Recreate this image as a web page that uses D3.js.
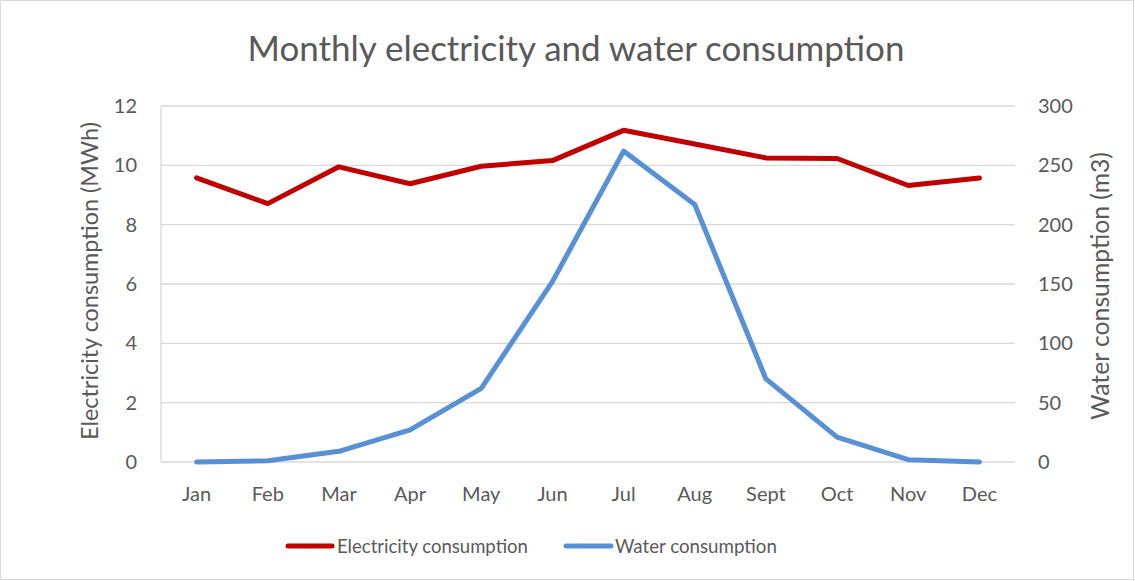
<!DOCTYPE html>
<html>
<head>
<meta charset="utf-8">
<script src="https://cdn.jsdelivr.net/npm/d3@7"></script>
<style>
  html, body { margin: 0; padding: 0; background: #fff; }
  svg { display: block; font-family: Lato, "Open Sans", sans-serif; }
</style>
</head>
<body>
<svg id="chart" width="1135" height="581"></svg>
<script>
// ── Data ─────────────────────────────────────────────────────────────────────
const months      = ["Jan", "Feb", "Mar", "Apr", "May", "Jun", "Jul", "Aug", "Sept", "Oct", "Nov", "Dec"];
const electricity = [9.58, 8.71, 9.95, 9.38, 9.97, 10.16, 11.18, 10.72, 10.25, 10.23, 9.32, 9.57];
const water       = [0, 1, 9, 27, 62, 152, 262, 217, 70, 21, 2, 0];
const leftTicks   = [0, 2, 4, 6, 8, 10, 12];
const rightTicks  = [0, 50, 100, 150, 200, 250, 300];

const RED  = "#C00000";
const BLUE = "#5890D6";
const TEXT = "#595959";
const GRID = "#D9D9D9";

const svg = d3.select("#chart");
const W = 1135, H = 581;
const plot = { left: 161, right: 1015, top: 106, bottom: 462 };

// shrink/grow a text node until it spans the measured width
function fitWidth(sel, target) {
  const node = sel.node();
  const fs = parseFloat(sel.attr("font-size"));
  const w = node.getComputedTextLength();
  if (w > 0) sel.attr("font-size", (fs * target / w).toFixed(2));
  return sel;
}

// chart border
svg.append("rect")
  .attr("x", 0.5).attr("y", 0.5)
  .attr("width", W - 2).attr("height", H - 2)
  .attr("fill", "#fff")
  .attr("stroke", GRID);

// ── Scales ───────────────────────────────────────────────────────────────────
const x = d3.scaleBand().domain(months).range([plot.left, plot.right]);
const yL = d3.scaleLinear().domain([0, 12]).range([plot.bottom, plot.top]);
const yR = d3.scaleLinear().domain([0, 300]).range([plot.bottom, plot.top]);
const cx = m => x(m) + x.bandwidth() / 2;

// gridlines
svg.append("g")
  .selectAll("line")
  .data(leftTicks).enter().append("line")
  .attr("x1", plot.left).attr("x2", plot.right)
  .attr("y1", d => yL(d)).attr("y2", d => yL(d))
  .attr("stroke", GRID)
  .attr("stroke-width", 1.3);

// left axis line
svg.append("line")
  .attr("x1", plot.left).attr("x2", plot.left)
  .attr("y1", plot.top).attr("y2", plot.bottom)
  .attr("stroke", GRID)
  .attr("stroke-width", 1.3);

// ── Axes ─────────────────────────────────────────────────────────────────────
const axisL = svg.append("g")
  .attr("transform", `translate(${plot.left},0)`)
  .call(d3.axisLeft(yL).tickValues(leftTicks).tickSize(0).tickPadding(24));
const axisR = svg.append("g")
  .attr("transform", `translate(${plot.right},0)`)
  .call(d3.axisRight(yR).tickValues(rightTicks).tickSize(0).tickPadding(23));
const axisB = svg.append("g")
  .attr("transform", `translate(0,${plot.bottom})`)
  .call(d3.axisBottom(x).tickSize(0).tickPadding(25));

[axisL, axisR, axisB].forEach(a => {
  a.select(".domain").remove();
  a.selectAll("text")
    .attr("fill", TEXT)
    .attr("font-size", 20)
    .attr("font-family", "Lato, 'Open Sans', sans-serif");
});

// ── Titles ───────────────────────────────────────────────────────────────────
const title = svg.append("text")
  .attr("x", 576).attr("y", 61)
  .attr("text-anchor", "middle")
  .attr("fill", TEXT)
  .attr("font-size", 30)
  .text("Monthly electricity and water consumption");
fitWidth(title, 657);

const leftTitle = svg.append("text")
  .attr("transform", `translate(98,281) rotate(-90)`)
  .attr("text-anchor", "middle")
  .attr("fill", TEXT)
  .attr("font-size", 20)
  .text("Electricity consumption (MWh)");
fitWidth(leftTitle, 318);

const rightTitle = svg.append("text")
  .attr("transform", `translate(1109,286) rotate(-90)`)
  .attr("text-anchor", "middle")
  .attr("fill", TEXT)
  .attr("font-size", 20)
  .text("Water consumption (m3)");
fitWidth(rightTitle, 268);

// ── Lines ────────────────────────────────────────────────────────────────────
const lineL = d3.line().x((d, i) => cx(months[i])).y(d => yL(d));
const lineR = d3.line().x((d, i) => cx(months[i])).y(d => yR(d));

svg.append("path")
  .datum(water)
  .attr("d", lineR)
  .attr("fill", "none")
  .attr("stroke", BLUE)
  .attr("stroke-width", 5)
  .attr("stroke-linejoin", "round")
  .attr("stroke-linecap", "round");

svg.append("path")
  .datum(electricity)
  .attr("d", lineL)
  .attr("fill", "none")
  .attr("stroke", RED)
  .attr("stroke-width", 5)
  .attr("stroke-linejoin", "round")
  .attr("stroke-linecap", "round");

// ── Legend ───────────────────────────────────────────────────────────────────
const legendItems = [
  { label: "Electricity consumption", color: RED,  x0: 288, x1: 332, tx: 337, tw: 191 },
  { label: "Water consumption",       color: BLUE, x0: 566, x1: 611, tx: 615, tw: 162 },
];
const legend = svg.append("g");
legendItems.forEach(it => {
  legend.append("line")
    .attr("x1", it.x0).attr("x2", it.x1)
    .attr("y1", 546).attr("y2", 546)
    .attr("stroke", it.color)
    .attr("stroke-width", 5)
    .attr("stroke-linecap", "round");
  const t = legend.append("text")
    .attr("x", it.tx).attr("y", 553)
    .attr("fill", TEXT)
    .attr("font-size", 19)
    .text(it.label);
  fitWidth(t, it.tw);
});
</script>
</body>
</html>
